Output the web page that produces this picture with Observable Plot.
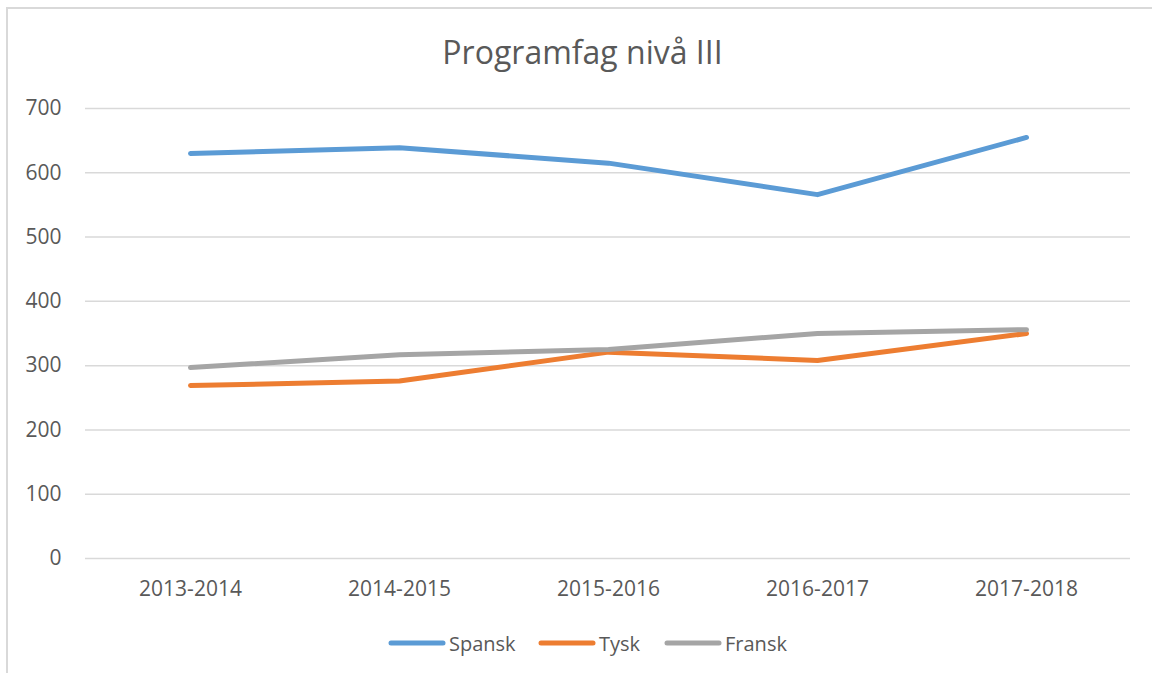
<!DOCTYPE html>
<html>
<head>
<meta charset="utf-8">
<script src="https://cdn.jsdelivr.net/npm/d3@7"></script>
<script src="https://cdn.jsdelivr.net/npm/@observablehq/plot@0.6"></script>
<style>
  html, body { margin: 0; padding: 0; background: #fff; }
  body { width: 1152px; height: 673px; overflow: hidden; position: relative; font-family: "Open Sans", sans-serif; color: #595959; }
  #frame { position: absolute; left: 6px; top: 7px; width: 1300px; height: 800px; border-top: 2px solid #d9d9d9; border-left: 2px solid #d9d9d9; }
  #title { position: absolute; left: 0; top: 30px; width: 1165px; text-align: center; font-size: 32px; color: #595959; }
  #chart { position: absolute; left: 0; top: 80px; }
  #legend { position: absolute; left: 0; top: 628px; width: 1152px; height: 30px; }
  .item { position: absolute; top: 0; display: flex; align-items: center; font-size: 20px; color: #595959; height: 30px; }
  .item svg { margin-right: 3px; }
</style>
</head>
<body>
<div id="frame"></div>
<div id="title">Programfag nivå III</div>
<div id="chart"></div>
<div id="legend"></div>
<script>
const years = ["2013-2014", "2014-2015", "2015-2016", "2016-2017", "2017-2018"];
const spansk = [630, 639, 615, 566, 655];
const tysk = [269, 276, 321, 308, 350];
const fransk = [297, 317, 325, 350, 356];
const seriesNames = ["Spansk", "Tysk", "Fransk"];
const seriesColors = ["#5B9BD5", "#ED7D31", "#A5A5A5"];
const yTicks = [0, 100, 200, 300, 400, 500, 600, 700];

const seriesValues = [spansk, tysk, fransk];
const data = seriesNames.flatMap((name, i) =>
  years.map((yr, j) => ({ serie: name, year: yr, value: seriesValues[i][j] }))
);

const chart = Plot.plot({
  width: 1152,
  height: 540,
  marginLeft: 85,
  marginRight: 22,
  marginTop: 28,
  marginBottom: 62,
  style: { fontFamily: "Open Sans, sans-serif", fontSize: "21px", color: "#595959", background: "transparent" },
  x: { type: "point", domain: years, padding: 0.5, label: null, tickSize: 0, tickPadding: 23 },
  y: { domain: [0, 700], ticks: yTicks, label: null, tickSize: 0, tickPadding: 24 },
  color: { domain: seriesNames, range: seriesColors },
  marks: [
    Plot.gridY(yTicks, { stroke: "#d9d9d9", strokeOpacity: 1, strokeWidth: 1.5 }),
    Plot.axisY({ ticks: yTicks, tickSize: 0, tickPadding: 24, fill: "#595959" }),
    Plot.axisX({ tickSize: 0, tickPadding: 23, fill: "#595959" }),
    Plot.line(data, { x: "year", y: "value", z: "serie", stroke: "serie", strokeWidth: 5, strokeLinecap: "round", strokeLinejoin: "round" })
  ]
});
document.getElementById("chart").appendChild(chart);

// legend
const legend = document.getElementById("legend");
const lefts = [388, 538, 664];
seriesNames.forEach((name, i) => {
  const item = document.createElement("div");
  item.className = "item";
  item.style.left = lefts[i] + "px";
  item.innerHTML = `<svg width="58" height="10"><line x1="3" y1="5" x2="55" y2="5" stroke="${seriesColors[i]}" stroke-width="5" stroke-linecap="round"/></svg><span>${name}</span>`;
  legend.appendChild(item);
});
</script>
</body>
</html>
